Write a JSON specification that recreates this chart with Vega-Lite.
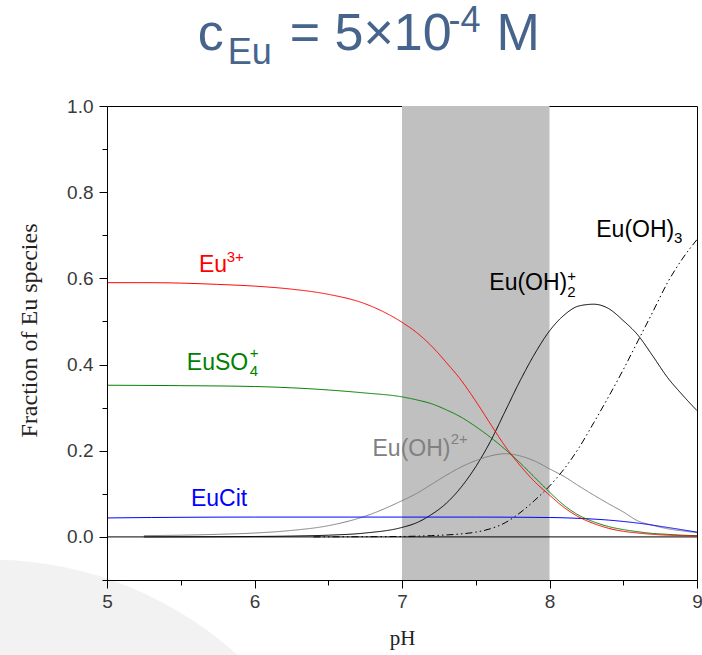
{
  "$schema": "https://vega.github.io/schema/vega-lite/v6.json",
  "width": 590,
  "height": 474,
  "autosize": {"type": "none"},
  "padding": {"left": 107, "top": 106, "right": 5, "bottom": 75},
  "background": "white",
  "config": {"view": {"stroke": "black", "strokeWidth": 1, "fill": "white"}},
  "datasets": {
    "curves": [
      {"species": "Eu(OH)3", "pH": 6.4, "v": 0.0},
      {"species": "Eu(OH)3", "pH": 6.75, "v": 0.0005},
      {"species": "Eu(OH)3", "pH": 7.0, "v": 0.001},
      {"species": "Eu(OH)3", "pH": 7.2, "v": 0.003},
      {"species": "Eu(OH)3", "pH": 7.4, "v": 0.007},
      {"species": "Eu(OH)3", "pH": 7.5, "v": 0.011},
      {"species": "Eu(OH)3", "pH": 7.6, "v": 0.019},
      {"species": "Eu(OH)3", "pH": 7.7, "v": 0.033},
      {"species": "Eu(OH)3", "pH": 7.8, "v": 0.056},
      {"species": "Eu(OH)3", "pH": 7.9, "v": 0.085},
      {"species": "Eu(OH)3", "pH": 8.0, "v": 0.118},
      {"species": "Eu(OH)3", "pH": 8.1, "v": 0.158},
      {"species": "Eu(OH)3", "pH": 8.2, "v": 0.207},
      {"species": "Eu(OH)3", "pH": 8.3, "v": 0.265},
      {"species": "Eu(OH)3", "pH": 8.4, "v": 0.325},
      {"species": "Eu(OH)3", "pH": 8.5, "v": 0.388},
      {"species": "Eu(OH)3", "pH": 8.6, "v": 0.455},
      {"species": "Eu(OH)3", "pH": 8.7, "v": 0.522},
      {"species": "Eu(OH)3", "pH": 8.8, "v": 0.59},
      {"species": "Eu(OH)3", "pH": 8.9, "v": 0.645},
      {"species": "Eu(OH)3", "pH": 9.0, "v": 0.69},

      {"species": "Eu(OH)2+", "pH": 5.25, "v": 0.0},
      {"species": "Eu(OH)2+", "pH": 6.0, "v": 0.001},
      {"species": "Eu(OH)2+", "pH": 6.25, "v": 0.002},
      {"species": "Eu(OH)2+", "pH": 6.5, "v": 0.004},
      {"species": "Eu(OH)2+", "pH": 6.75, "v": 0.009},
      {"species": "Eu(OH)2+", "pH": 7.0, "v": 0.022},
      {"species": "Eu(OH)2+", "pH": 7.1, "v": 0.033},
      {"species": "Eu(OH)2+", "pH": 7.2, "v": 0.052},
      {"species": "Eu(OH)2+", "pH": 7.3, "v": 0.078},
      {"species": "Eu(OH)2+", "pH": 7.4, "v": 0.115},
      {"species": "Eu(OH)2+", "pH": 7.5, "v": 0.163},
      {"species": "Eu(OH)2+", "pH": 7.6, "v": 0.222},
      {"species": "Eu(OH)2+", "pH": 7.7, "v": 0.292},
      {"species": "Eu(OH)2+", "pH": 7.8, "v": 0.362},
      {"species": "Eu(OH)2+", "pH": 7.9, "v": 0.425},
      {"species": "Eu(OH)2+", "pH": 8.0, "v": 0.478},
      {"species": "Eu(OH)2+", "pH": 8.1, "v": 0.515},
      {"species": "Eu(OH)2+", "pH": 8.2, "v": 0.536},
      {"species": "Eu(OH)2+", "pH": 8.3, "v": 0.54},
      {"species": "Eu(OH)2+", "pH": 8.4, "v": 0.53},
      {"species": "Eu(OH)2+", "pH": 8.5, "v": 0.502},
      {"species": "Eu(OH)2+", "pH": 8.6, "v": 0.468},
      {"species": "Eu(OH)2+", "pH": 8.7, "v": 0.42},
      {"species": "Eu(OH)2+", "pH": 8.8, "v": 0.37},
      {"species": "Eu(OH)2+", "pH": 8.9, "v": 0.33},
      {"species": "Eu(OH)2+", "pH": 9.0, "v": 0.293},

      {"species": "EuOH2+", "pH": 5.25, "v": 0.003},
      {"species": "EuOH2+", "pH": 5.5, "v": 0.004},
      {"species": "EuOH2+", "pH": 5.75, "v": 0.006},
      {"species": "EuOH2+", "pH": 6.0, "v": 0.009},
      {"species": "EuOH2+", "pH": 6.25, "v": 0.015},
      {"species": "EuOH2+", "pH": 6.5, "v": 0.026},
      {"species": "EuOH2+", "pH": 6.75, "v": 0.048},
      {"species": "EuOH2+", "pH": 7.0, "v": 0.084},
      {"species": "EuOH2+", "pH": 7.1, "v": 0.101},
      {"species": "EuOH2+", "pH": 7.2, "v": 0.122},
      {"species": "EuOH2+", "pH": 7.3, "v": 0.143},
      {"species": "EuOH2+", "pH": 7.4, "v": 0.162},
      {"species": "EuOH2+", "pH": 7.5, "v": 0.177},
      {"species": "EuOH2+", "pH": 7.6, "v": 0.188},
      {"species": "EuOH2+", "pH": 7.7, "v": 0.193},
      {"species": "EuOH2+", "pH": 7.8, "v": 0.188},
      {"species": "EuOH2+", "pH": 7.9, "v": 0.176},
      {"species": "EuOH2+", "pH": 8.0, "v": 0.158},
      {"species": "EuOH2+", "pH": 8.1, "v": 0.14},
      {"species": "EuOH2+", "pH": 8.2, "v": 0.118},
      {"species": "EuOH2+", "pH": 8.3, "v": 0.097},
      {"species": "EuOH2+", "pH": 8.4, "v": 0.077},
      {"species": "EuOH2+", "pH": 8.5, "v": 0.058},
      {"species": "EuOH2+", "pH": 8.6, "v": 0.037},
      {"species": "EuOH2+", "pH": 8.7, "v": 0.027},
      {"species": "EuOH2+", "pH": 8.8, "v": 0.019},
      {"species": "EuOH2+", "pH": 8.9, "v": 0.014},
      {"species": "EuOH2+", "pH": 9.0, "v": 0.01},

      {"species": "EuCit", "pH": 5.0, "v": 0.044},
      {"species": "EuCit", "pH": 5.3, "v": 0.045},
      {"species": "EuCit", "pH": 6.0, "v": 0.046},
      {"species": "EuCit", "pH": 7.0, "v": 0.046},
      {"species": "EuCit", "pH": 7.5, "v": 0.046},
      {"species": "EuCit", "pH": 8.0, "v": 0.045},
      {"species": "EuCit", "pH": 8.2, "v": 0.043},
      {"species": "EuCit", "pH": 8.4, "v": 0.039},
      {"species": "EuCit", "pH": 8.6, "v": 0.032},
      {"species": "EuCit", "pH": 8.8, "v": 0.022},
      {"species": "EuCit", "pH": 9.0, "v": 0.011},

      {"species": "EuSO4+", "pH": 5.0, "v": 0.352},
      {"species": "EuSO4+", "pH": 5.5, "v": 0.351},
      {"species": "EuSO4+", "pH": 6.0, "v": 0.349},
      {"species": "EuSO4+", "pH": 6.25, "v": 0.346},
      {"species": "EuSO4+", "pH": 6.5, "v": 0.341},
      {"species": "EuSO4+", "pH": 6.75, "v": 0.334},
      {"species": "EuSO4+", "pH": 7.0, "v": 0.325},
      {"species": "EuSO4+", "pH": 7.1, "v": 0.318},
      {"species": "EuSO4+", "pH": 7.2, "v": 0.309},
      {"species": "EuSO4+", "pH": 7.3, "v": 0.295},
      {"species": "EuSO4+", "pH": 7.4, "v": 0.278},
      {"species": "EuSO4+", "pH": 7.5, "v": 0.256},
      {"species": "EuSO4+", "pH": 7.6, "v": 0.231},
      {"species": "EuSO4+", "pH": 7.7, "v": 0.203},
      {"species": "EuSO4+", "pH": 7.8, "v": 0.172},
      {"species": "EuSO4+", "pH": 7.9, "v": 0.138},
      {"species": "EuSO4+", "pH": 8.0, "v": 0.104},
      {"species": "EuSO4+", "pH": 8.1, "v": 0.073},
      {"species": "EuSO4+", "pH": 8.2, "v": 0.05},
      {"species": "EuSO4+", "pH": 8.3, "v": 0.035},
      {"species": "EuSO4+", "pH": 8.4, "v": 0.024},
      {"species": "EuSO4+", "pH": 8.5, "v": 0.017},
      {"species": "EuSO4+", "pH": 8.6, "v": 0.012},
      {"species": "EuSO4+", "pH": 8.7, "v": 0.008},
      {"species": "EuSO4+", "pH": 8.8, "v": 0.006},
      {"species": "EuSO4+", "pH": 8.9, "v": 0.004},
      {"species": "EuSO4+", "pH": 9.0, "v": 0.003},

      {"species": "Eu3+", "pH": 5.0, "v": 0.59},
      {"species": "Eu3+", "pH": 5.25, "v": 0.59},
      {"species": "Eu3+", "pH": 5.5, "v": 0.589},
      {"species": "Eu3+", "pH": 5.75, "v": 0.586},
      {"species": "Eu3+", "pH": 6.0, "v": 0.582},
      {"species": "Eu3+", "pH": 6.25, "v": 0.575},
      {"species": "Eu3+", "pH": 6.5, "v": 0.563},
      {"species": "Eu3+", "pH": 6.75, "v": 0.541},
      {"species": "Eu3+", "pH": 7.0, "v": 0.498},
      {"species": "Eu3+", "pH": 7.1, "v": 0.474},
      {"species": "Eu3+", "pH": 7.2, "v": 0.443},
      {"species": "Eu3+", "pH": 7.3, "v": 0.405},
      {"species": "Eu3+", "pH": 7.4, "v": 0.364},
      {"species": "Eu3+", "pH": 7.5, "v": 0.315},
      {"species": "Eu3+", "pH": 7.6, "v": 0.262},
      {"species": "Eu3+", "pH": 7.7, "v": 0.21},
      {"species": "Eu3+", "pH": 7.8, "v": 0.166},
      {"species": "Eu3+", "pH": 7.9, "v": 0.128},
      {"species": "Eu3+", "pH": 8.0, "v": 0.097},
      {"species": "Eu3+", "pH": 8.1, "v": 0.068},
      {"species": "Eu3+", "pH": 8.2, "v": 0.046},
      {"species": "Eu3+", "pH": 8.3, "v": 0.031},
      {"species": "Eu3+", "pH": 8.4, "v": 0.02},
      {"species": "Eu3+", "pH": 8.5, "v": 0.013},
      {"species": "Eu3+", "pH": 8.6, "v": 0.009},
      {"species": "Eu3+", "pH": 8.7, "v": 0.006},
      {"species": "Eu3+", "pH": 8.8, "v": 0.004},
      {"species": "Eu3+", "pH": 8.9, "v": 0.003},
      {"species": "Eu3+", "pH": 9.0, "v": 0.002}
    ],
    "labels": [
      {"role": "title", "text": "c", "pH": 5.616, "v": 1.13},
      {"role": "title", "text": "= 5×10", "pH": 6.239, "v": 1.13},
      {"role": "title", "text": "M", "pH": 7.64, "v": 1.13},
      {"role": "titlesmall", "text": "Eu", "pH": 5.819, "v": 1.098},
      {"role": "titlesmall", "text": "-4", "pH": 7.315, "v": 1.172},
      {"role": "main", "species": "Eu3+", "text": "Eu", "pH": 5.623, "v": 0.614},
      {"role": "main", "species": "EuSO4+", "text": "EuSO", "pH": 5.541, "v": 0.388},
      {"role": "main", "species": "EuCit", "text": "EuCit", "pH": 5.569, "v": 0.072},
      {"role": "main", "species": "EuOH2+", "text": "Eu(OH)", "pH": 6.8, "v": 0.188},
      {"role": "main", "species": "Eu(OH)2+", "text": "Eu(OH)", "pH": 7.592, "v": 0.574},
      {"role": "main", "species": "Eu(OH)3", "text": "Eu(OH)", "pH": 8.317, "v": 0.695},
      {"role": "small", "species": "Eu3+", "text": "3+", "pH": 5.812, "v": 0.637},
      {"role": "small", "species": "EuSO4+", "text": "4", "pH": 5.968, "v": 0.374},
      {"role": "small", "species": "EuSO4+", "text": "+", "pH": 5.968, "v": 0.416},
      {"role": "small", "species": "EuOH2+", "text": "2+", "pH": 7.33, "v": 0.216},
      {"role": "small", "species": "Eu(OH)2+", "text": "2", "pH": 8.12, "v": 0.556},
      {"role": "small", "species": "Eu(OH)2+", "text": "+", "pH": 8.12, "v": 0.593},
      {"role": "small", "species": "Eu(OH)3", "text": "3", "pH": 8.844, "v": 0.681}
    ]
  },
  "encoding": {
    "x": {
      "field": "pH", "type": "quantitative",
      "scale": {"domain": [5, 9], "nice": false, "zero": false},
      "axis": {
        "values": [5, 5.5, 6, 6.5, 7, 7.5, 8, 8.5, 9],
        "labelExpr": "datum.value % 1 != 0 ? '' : format(datum.value, 'd')",
        "tickSize": {"condition": {"test": "datum.value % 1 != 0", "value": 5}, "value": 8},
        "labelFlush": false, "labelOverlap": false,
        "labelFont": "Liberation Sans", "labelFontSize": 19, "labelColor": "#3a3a3a", "labelPadding": 4,
        "domainColor": "black", "tickColor": "black", "grid": false, "zindex": 1,
        "title": "pH", "titleFont": "Liberation Serif", "titleFontSize": 21, "titleFontWeight": "normal",
        "titleColor": "#222222", "titleBaseline": "alphabetic", "titleY": 64
      }
    },
    "y": {
      "field": "v", "type": "quantitative",
      "scale": {"domain": [-0.1, 1.0], "nice": false, "zero": false},
      "axis": {
        "values": [-0.1, 0, 0.1, 0.2, 0.3, 0.4, 0.5, 0.6, 0.7, 0.8, 0.9, 1.0],
        "labelExpr": "abs(round(datum.value*10)) % 2 == 1 ? '' : format(datum.value, '.1f')",
        "tickSize": {"condition": {"test": "abs(round(datum.value*10)) % 2 == 1", "value": 5}, "value": 8},
        "labelOverlap": false, "labelFlush": false,
        "labelFont": "Liberation Sans", "labelFontSize": 19, "labelColor": "#3a3a3a", "labelPadding": 6,
        "domainColor": "black", "tickColor": "black", "grid": false, "zindex": 1,
        "title": "Fraction of Eu species", "titleFont": "Liberation Serif", "titleFontSize": 24,
        "titleFontWeight": "normal", "titleColor": "#222222",
        "titleAngle": -90, "titleAlign": "center", "titleBaseline": "alphabetic",
        "titleX": -71, "titleY": 224
      }
    }
  },
  "layer": [
    {
      "data": {"values": [{"pH": 4.21, "v": -0.907}]},
      "mark": {"type": "point", "shape": "circle", "filled": true, "size": 541700, "color": "#f2f2f2", "opacity": 1, "clip": false}
    },
    {
      "data": {"values": [{"pH": 7, "pH2": 8, "v": -0.1, "v2": 1.0}]},
      "mark": {"type": "rect", "color": "#c0c0c0"},
      "encoding": {"x2": {"field": "pH2"}, "y2": {"field": "v2"}}
    },
    {
      "data": {"values": [{"pH": 5, "pH2": 9, "v": 0}]},
      "mark": {"type": "rule", "color": "black", "strokeWidth": 1},
      "encoding": {"x2": {"field": "pH2"}}
    },
    {
      "data": {"name": "curves"},
      "mark": {"type": "line", "strokeWidth": 1, "interpolate": "monotone"},
      "encoding": {
        "color": {"field": "species", "type": "nominal", "legend": null,
          "scale": {"domain": ["Eu3+", "EuSO4+", "EuCit", "EuOH2+", "Eu(OH)2+", "Eu(OH)3"],
                    "range": ["#ff0000", "#008000", "#0000ff", "#808080", "#000000", "#000000"]}},
        "strokeDash": {"field": "species", "type": "nominal", "legend": null,
          "scale": {"domain": ["Eu3+", "EuSO4+", "EuCit", "EuOH2+", "Eu(OH)2+", "Eu(OH)3"],
                    "range": [[1, 0], [1, 0], [1, 0], [1, 0], [1, 0], [7, 3, 1.5, 3, 1.5, 3]]}},
        "order": {"field": "pH", "type": "quantitative"}
      }
    },
    {
      "data": {"name": "labels"},
      "transform": [{"filter": "datum.role == 'title'"}],
      "mark": {"type": "text", "align": "left", "baseline": "alphabetic", "font": "Liberation Sans", "fontSize": 52, "color": "#46648c"},
      "encoding": {"text": {"field": "text"}}
    },
    {
      "data": {"name": "labels"},
      "transform": [{"filter": "datum.role == 'titlesmall'"}],
      "mark": {"type": "text", "align": "left", "baseline": "alphabetic", "font": "Liberation Sans", "fontSize": 36, "color": "#46648c"},
      "encoding": {"text": {"field": "text"}}
    },
    {
      "data": {"name": "labels"},
      "transform": [{"filter": "datum.role == 'main'"}],
      "mark": {"type": "text", "align": "left", "baseline": "alphabetic", "font": "Liberation Sans", "fontSize": 23},
      "encoding": {"text": {"field": "text"}, "color": {"field": "species", "type": "nominal", "legend": null}}
    },
    {
      "data": {"name": "labels"},
      "transform": [{"filter": "datum.role == 'small'"}],
      "mark": {"type": "text", "align": "left", "baseline": "alphabetic", "font": "Liberation Sans", "fontSize": 15},
      "encoding": {"text": {"field": "text"}, "color": {"field": "species", "type": "nominal", "legend": null}}
    }
  ]
}
